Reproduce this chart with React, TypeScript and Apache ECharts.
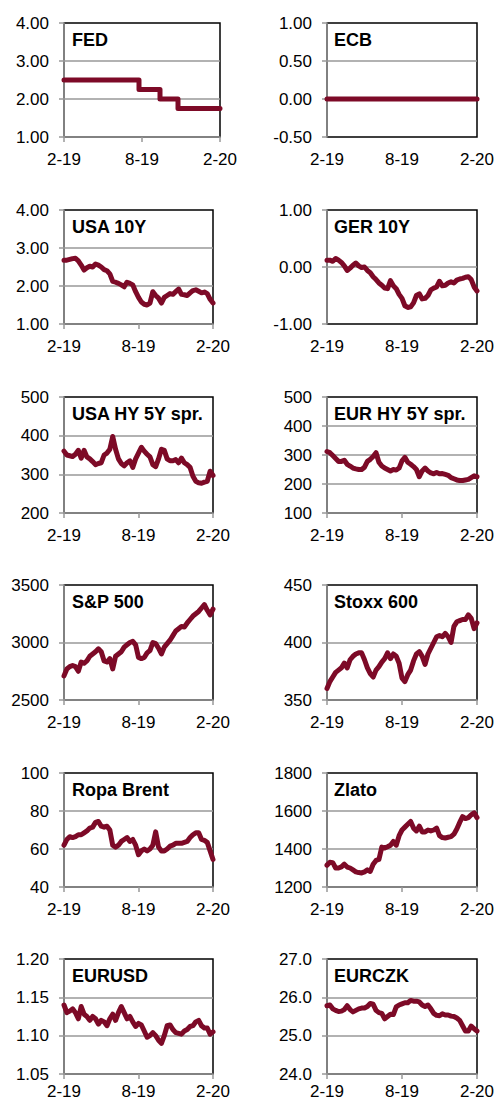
import React, { useEffect, useRef } from "react";
import * as echarts from "echarts";

const X_TICK_LABELS = ["2-19", "8-19", "2-20"];

const FED = [
  2.5, 2.5, 2.5, 2.5, 2.5, 2.5, 2.5, 2.5, 2.5, 2.5,
  2.5, 2.5, 2.5, 2.5, 2.5, 2.5, 2.5, 2.5, 2.5, 2.5,
  2.5, 2.5, 2.5, 2.5, 2.5, 2.25, 2.25, 2.25, 2.25, 2.25,
  2.25, 2.25, 2.0, 2.0, 2.0, 2.0, 2.0, 2.0, 1.75, 1.75,
  1.75, 1.75, 1.75, 1.75, 1.75, 1.75, 1.75, 1.75, 1.75, 1.75,
  1.75, 1.75, 1.75,
];
const ECB = [
  0, 0, 0, 0, 0, 0, 0, 0, 0, 0,
  0, 0, 0, 0, 0, 0, 0, 0, 0, 0,
  0, 0, 0, 0, 0, 0, 0, 0, 0, 0,
  0, 0, 0, 0, 0, 0, 0, 0, 0, 0,
  0, 0, 0, 0, 0, 0, 0, 0, 0, 0,
  0, 0, 0,
];
const USA10Y = [
  2.68, 2.68, 2.70, 2.72, 2.73, 2.66, 2.55, 2.42, 2.48, 2.52,
  2.50, 2.58, 2.55, 2.50, 2.43, 2.40, 2.32, 2.12, 2.10, 2.07,
  2.03, 1.98, 2.10, 2.07, 2.03, 1.85, 1.70, 1.58, 1.52, 1.50,
  1.55, 1.85, 1.75, 1.68, 1.55, 1.70, 1.75, 1.80, 1.78, 1.85,
  1.92, 1.78, 1.77, 1.75, 1.82, 1.88, 1.90, 1.86, 1.82, 1.84,
  1.80, 1.65, 1.55,
];
const GER10Y = [
  0.12, 0.12, 0.10, 0.15, 0.12, 0.08, 0.02, -0.06, -0.02, 0.03,
  0.07, 0.02, -0.01, 0.0, -0.06, -0.10, -0.17, -0.22, -0.28, -0.32,
  -0.37, -0.38, -0.24, -0.33, -0.38, -0.48, -0.55, -0.68, -0.71, -0.70,
  -0.63, -0.50, -0.47, -0.56, -0.55, -0.50, -0.40, -0.37, -0.35, -0.25,
  -0.33, -0.32, -0.28, -0.26, -0.28, -0.23, -0.21, -0.20, -0.18, -0.17,
  -0.22, -0.35, -0.42,
];
const USA_HY = [
  360, 350, 348, 346, 352, 362, 342, 362, 345, 340,
  333, 325, 328, 330, 350, 355, 365, 398, 365, 340,
  328, 322, 330, 335, 318, 340, 355, 370, 360, 352,
  345, 325, 320, 340, 365, 362, 340, 335, 335, 338,
  330, 342, 330, 325, 318, 295, 282, 278, 277, 280,
  282, 308, 297,
];
const EUR_HY = [
  312, 308, 298, 288, 278, 278, 282, 268, 262, 255,
  252, 250, 250, 258, 278, 285, 295, 308, 275, 262,
  255, 250, 245, 250, 248, 255, 280, 292, 275, 268,
  260, 250, 225, 245, 255, 245, 238, 235, 240, 235,
  236, 233, 230, 222, 218, 214, 212, 212, 214, 216,
  222, 228, 225,
];
const SP500 = [
  2710, 2770, 2790, 2800, 2790, 2750, 2830, 2820, 2840, 2880,
  2900, 2920, 2945, 2920, 2840, 2830, 2860, 2770, 2880, 2900,
  2920, 2960, 2980, 3000, 3010, 2980, 2870, 2860, 2870, 2910,
  2930, 3000, 2990, 2950, 2900, 2960, 2990, 3020, 3060, 3100,
  3120, 3140, 3135, 3170, 3200, 3230, 3250, 3270, 3300, 3330,
  3280, 3240, 3290,
];
const STOXX600 = [
  360, 366, 370, 374, 376, 378, 382, 378, 385, 388,
  390, 391, 391, 385, 378, 373, 370, 376, 379, 383,
  386, 391, 386, 390, 388, 382, 369, 366, 372, 376,
  384, 390, 392, 388, 381, 390, 395, 400, 405, 406,
  405, 408, 405, 400, 414, 418, 419, 420, 420, 424,
  421, 412, 417,
];
const BRENT = [
  62, 65, 66.5, 66, 66.5, 67.5, 67.5, 68.5, 69.5, 71,
  71.5, 74, 74.5, 72, 71.5, 72, 70, 62, 61, 62,
  64, 65, 66, 64, 65, 62, 57, 59, 60, 59,
  60, 62, 69, 61, 59, 59, 60, 61.5, 62, 63,
  63, 63, 63.5, 64, 66, 67.5, 68.5, 68.5, 65, 64.5,
  63.5, 59, 54.5,
];
const GOLD = [
  1315, 1330, 1328, 1300, 1300, 1306, 1320, 1305, 1300, 1290,
  1280, 1276, 1274, 1280, 1290, 1282, 1320, 1340, 1345, 1410,
  1405, 1412, 1420, 1440, 1420, 1470, 1500, 1515, 1530, 1545,
  1510, 1495, 1520, 1490, 1490, 1500, 1495, 1500, 1510, 1470,
  1460, 1458, 1462, 1465, 1478, 1505, 1540, 1570, 1560, 1565,
  1580, 1590, 1565,
];
const EURUSD = [
  1.140, 1.130, 1.132, 1.135, 1.130, 1.122, 1.138, 1.128, 1.125, 1.120,
  1.125, 1.122, 1.115, 1.120, 1.118, 1.113, 1.122, 1.128, 1.120, 1.130,
  1.138, 1.130, 1.122, 1.125, 1.118, 1.112, 1.116, 1.114, 1.106, 1.098,
  1.100, 1.104, 1.100, 1.094, 1.090, 1.100, 1.113, 1.114, 1.108, 1.104,
  1.103, 1.102, 1.106, 1.108, 1.112, 1.113, 1.118, 1.120, 1.113, 1.110,
  1.110, 1.102, 1.105,
];
const EURCZK = [
  25.78, 25.80, 25.70, 25.66, 25.63, 25.64, 25.68, 25.78, 25.68, 25.62,
  25.66, 25.70, 25.72, 25.72, 25.76, 25.84, 25.82, 25.66, 25.60, 25.58,
  25.44, 25.50, 25.56, 25.55, 25.75, 25.80, 25.83, 25.86, 25.86, 25.92,
  25.90, 25.90, 25.88, 25.80, 25.76, 25.80, 25.70, 25.58, 25.53, 25.52,
  25.57, 25.54, 25.54, 25.51, 25.50, 25.46, 25.40, 25.26, 25.12, 25.12,
  25.25, 25.18, 25.12,
];

const TITLES = [
  "FED", "ECB", "USA 10Y", "GER 10Y", "USA HY 5Y spr.", "EUR HY 5Y spr.",
  "S&P 500", "Stoxx 600", "Ropa Brent", "Zlato", "EURUSD", "EURCZK",
];
const SERIES = [
  FED, ECB, USA10Y, GER10Y, USA_HY, EUR_HY,
  SP500, STOXX600, BRENT, GOLD, EURUSD, EURCZK,
];
const Y_MIN = [1, -0.5, 1, -1, 200, 100, 2500, 350, 40, 1200, 1.05, 24];
const Y_MAX = [4, 1, 4, 1, 500, 500, 3500, 450, 100, 1800, 1.2, 27];
const Y_STEP = [1, 0.5, 1, 1, 100, 100, 500, 50, 20, 200, 0.05, 1];
const Y_DECIMALS = [2, 2, 2, 2, 0, 0, 0, 0, 0, 0, 2, 1];

// layout
const ROW_TOP = [23, 210, 397, 585, 773, 959];
const ROW_H = [114, 114, 116, 115, 114, 115];
const COL_LEFT = [64, 327];
const COL_W = [149, 150];

const LINE_COLOR = "#7d0a27";
const GRAY = "#999999";
const FONT = "'Liberation Sans', Arial, sans-serif";

function buildOption() {
  const grid: any[] = [];
  const xAxis: any[] = [];
  const yAxis: any[] = [];
  const series: any[] = [];
  const title: any[] = [];
  const nWeeks = 52;

  SERIES.forEach((vals, i) => {
    const row = Math.floor(i / 2);
    const col = i % 2;
    const left = COL_LEFT[col];
    const top = ROW_TOP[row];
    const width = i === 0 ? 156 : COL_W[col];
    const height = ROW_H[row];
    const crossesZero = Y_MIN[i] < 0;
    const lastRow = row === ROW_TOP.length - 1;
    grid.push({
      left,
      top,
      width,
      height,
      show: true,
      borderColor: "#000",
      borderWidth: 1.5,
      backgroundColor: "transparent",
      containLabel: false,
      outerBoundsMode: "none",
    });
    xAxis.push({
      gridIndex: i,
      type: "value",
      min: 0,
      max: nWeeks,
      interval: nWeeks / 2,
      axisLine: {
        show: !crossesZero,
        onZero: false,
        lineStyle: { color: GRAY, width: 1.5 },
      },
      axisTick: {
        show: !crossesZero,
        length: 5,
        lineStyle: { color: GRAY, width: 1.5 },
      },
      axisLabel: {
        margin: lastRow ? 9 : 14,
        fontSize: 17,
        fontFamily: FONT,
        color: "#000",
        showMinLabel: true,
        showMaxLabel: true,
        formatter: (v: number) => X_TICK_LABELS[Math.round(v / (nWeeks / 2))],
      },
      splitLine: { show: false },
    });
    yAxis.push({
      gridIndex: i,
      type: "value",
      min: Y_MIN[i],
      max: Y_MAX[i],
      interval: Y_STEP[i],
      axisLine: { show: true, onZero: false, lineStyle: { color: GRAY, width: 1.5 } },
      axisTick: { show: true, length: 5, lineStyle: { color: GRAY, width: 1.5 } },
      axisLabel: {
        margin: 15,
        fontSize: 17,
        fontFamily: FONT,
        color: "#000",
        showMinLabel: true,
        showMaxLabel: true,
        formatter: (v: number) => v.toFixed(Y_DECIMALS[i]),
      },
      splitLine: {
        show: true,
        showMinLine: false,
        showMaxLine: false,
        lineStyle: { color: GRAY, width: 1.5 },
      },
    });
    series.push({
      type: "line",
      xAxisIndex: i,
      yAxisIndex: i,
      data: vals.map((v, j) => [j, v]),
      showSymbol: false,
      symbol: "none",
      step: i === 0 ? "end" : false,
      lineStyle: { color: LINE_COLOR, width: 5, cap: "round", join: "round" },
      z: 5,
    });
    title.push({
      text: TITLES[i],
      left: left + (col === 0 ? 8 : 7),
      top: top + 8,
      padding: 0,
      textStyle: {
        fontFamily: FONT,
        fontSize: 18,
        fontWeight: "bold",
        color: "#000",
      },
    });
  });

  return {
    animation: false,
    backgroundColor: "#fff",
    title,
    grid,
    xAxis,
    yAxis,
    series,
  };
}

export default function App() {
  const ref = useRef<HTMLDivElement>(null);
  useEffect(() => {
    document.body.style.margin = "0";
    const chart = echarts.init(ref.current!, null, { renderer: "svg" });
    chart.setOption(buildOption() as any);
    return () => {
      chart.dispose();
    };
  }, []);
  return <div ref={ref} style={{ width: 496, height: 1104 }} />;
}
